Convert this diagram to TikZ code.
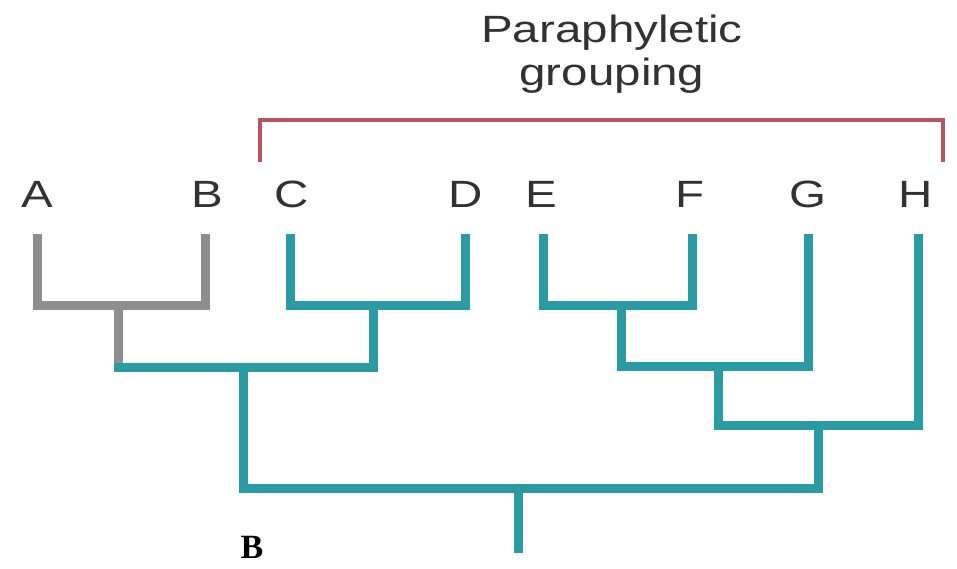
\documentclass[tikz,border=0pt]{standalone}
\usepackage{fontspec}
\setmainfont{Liberation Sans}
\newfontfamily\lab[FakeStretch=1.25]{Liberation Sans}
\newfontfamily\panel{Liberation Serif}
\definecolor{teal1}{RGB}{42,154,163}
\definecolor{gray1}{RGB}{142,142,142}
\definecolor{red1}{RGB}{184,84,94}
\definecolor{txt}{RGB}{50,50,50}
\tikzset{
  tealbr/.style={draw=teal1, line width=9pt, line cap=rect, line join=miter},
  graybr/.style={draw=gray1, line width=9pt, line cap=rect, line join=miter},
  bracket/.style={draw=red1, line width=3.5pt, line join=miter},
  leaflab/.style={font=\lab\fontsize{38}{40}\selectfont, text=txt, anchor=base, inner sep=0pt},
  toplab/.style={font=\lab\fontsize{38}{40}\selectfont, text=txt, anchor=base, inner sep=0pt},
  panellab/.style={font=\panel\bfseries\fontsize{34}{36}\selectfont, text=black, anchor=base, inner sep=0pt}
}
\begin{document}
\begin{tikzpicture}[x=1pt,y=-1pt]
\useasboundingbox[fill=white] (0,0) rectangle (957,568);
% title
\node[toplab] (t1) at (612,42) {Paraphyletic};
\node[toplab] (t2) at (612,85) {grouping};
% bracket
\coordinate (rL) at (260,162);
\coordinate (rR) at (943,162);
\coordinate (rTop) at (600,120);
\draw[bracket] (rL) |- (rTop) -| (rR);
% leaf labels
\node[leaflab] (lA) at (37,207) {A};
\node[leaflab] (lB) at (207,207) {B};
\node[leaflab] (lC) at (292,207) {C};
\node[leaflab] (lD) at (466,207) {D};
\node[leaflab] (lE) at (541,207) {E};
\node[leaflab] (lF) at (690,207) {F};
\node[leaflab] (lG) at (808,207) {G};
\node[leaflab] (lH) at (916,207) {H};
% leaf tips
\coordinate (tA) at (37,238);
\coordinate (tB) at (205,238);
\coordinate (tC) at (290,238);
\coordinate (tD) at (465,238);
\coordinate (tE) at (543,238);
\coordinate (tF) at (692,238);
\coordinate (tG) at (808,238);
\coordinate (tH) at (918,238);
% internal nodes
\coordinate (nAB) at (118,305);
\coordinate (bAB) at (118,367);
\coordinate (nCD) at (373,305);
\coordinate (bCD) at (373,367);
\coordinate (nAD) at (243,367);
\coordinate (bAD) at (243,488);
\coordinate (nEF) at (621,305);
\coordinate (bEF) at (621,366);
\coordinate (nEG) at (718,366);
\coordinate (bEG) at (718,425);
\coordinate (nEH) at (818,425);
\coordinate (bEH) at (818,488);
\coordinate (nRoot) at (518,488);
\coordinate (bRoot) at (518,548);
% gray clade
\draw[graybr] (tA) |- (nAB) -| (tB);
\draw[graybr] (nAB) -- (bAB);
% teal clades
\draw[tealbr] (tC) |- (nCD) -| (tD);
\draw[tealbr] (nCD) -- (bCD);
\draw[tealbr] (bAB) -- (bCD);
\draw[tealbr] (nAD) -- (bAD);
\draw[tealbr] (tE) |- (nEF) -| (tF);
\draw[tealbr] (nEF) -- (bEF);
\draw[tealbr] (bEF) -| (tG);
\draw[tealbr] (nEG) -- (bEG);
\draw[tealbr] (bEG) -| (tH);
\draw[tealbr] (nEH) -- (bEH);
\draw[tealbr] (bAD) -- (bEH);
\draw[tealbr] (nRoot) -- (bRoot);
% panel label
\node[panellab] (pB) at (252,558) {B};
\end{tikzpicture}
\end{document}
